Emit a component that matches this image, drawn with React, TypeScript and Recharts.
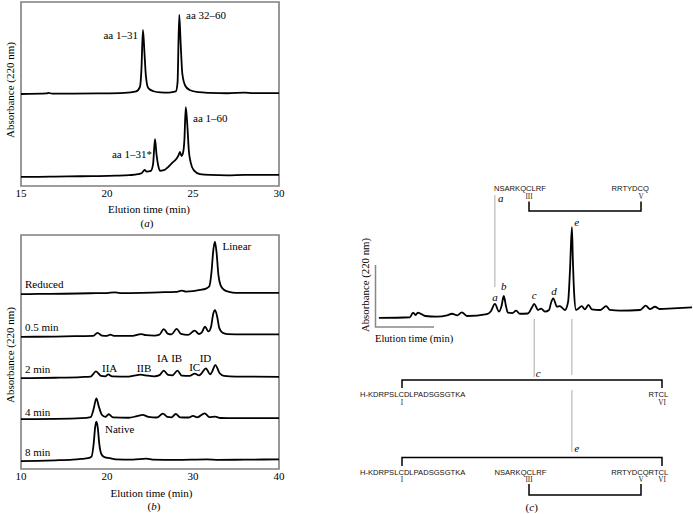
import React from 'react';
import { LineChart, Line, XAxis, YAxis, ReferenceArea, ReferenceLine } from 'recharts';

// ---------- Panel (a) ----------
const aTicks = [15, 20, 25, 30];
const aTopTimes = [15, 16.5, 16.6, 16.8, 18, 19.5, 21, 21.7, 21.92, 22.0, 22.09, 22.18, 22.26, 22.4, 22.7, 23.1, 23.6, 24.0, 24.1, 24.2, 24.28, 24.38, 24.55, 24.8, 25.3, 26, 27, 28, 28.5, 30];
const aTopAbs = [0, 0.3, 0.6, 0.2, 0.2, 0.3, 0.6, 1.4, 4, 13, 34.8, 22, 10, 3.2, 1.5, 0.9, 0.8, 1.4, 6, 43, 28, 11, 4.5, 2.2, 1.0, 0.6, 0.4, 0.8, 0.5, 0.5];
const aBottomTimes = [15, 16, 17, 18.5, 19.5, 20.5, 21.3, 21.8, 22.0, 22.2, 22.3, 22.55, 22.68, 22.79, 22.88, 22.98, 23.08, 23.3, 23.47, 23.76, 24.05, 24.15, 24.24, 24.33, 24.42, 24.5, 24.58, 24.67, 24.76, 24.86, 25.05, 25.4, 26, 27, 28, 30];
const aBottomAbs = [0, 0, 0.1, 0.3, 0.4, 0.6, 0.9, 1.4, 1.9, 3.7, 2.8, 3.2, 7, 20.4, 12, 6, 3.3, 3.6, 4.6, 7.3, 10, 11.5, 13.6, 11.3, 13, 20, 37.9, 28, 14, 8, 3.5, 1.5, 1.0, 0.8, 1.0, 1.0];
const aOffsetTop = 50;
const aOffsetBottom = 5;

// ---------- Panel (b) ----------
const bTicks = [10, 20, 30, 40];
const bNames = ['Reduced', '0.5 min', '2 min', '4 min', '8 min'];
const bReducedTimes = [10, 12, 15, 18, 20, 20.9, 21.5, 24, 26, 28, 28.7, 29.2, 30, 30.8, 31.5, 31.9, 32.15, 32.35, 32.55, 32.75, 32.95, 33.2, 33.6, 34.2, 35, 37, 40];
const bReducedAbs = [-0.4, -0.3, -0.2, 0, 0.1, 0.4, 0.1, 0.2, 0.4, 0.6, 1.1, 0.7, 0.9, 1.4, 2.0, 3, 9, 18, 22.1, 17, 8, 3.5, 1.5, 0.6, 0.2, 0.2, 0.2];
const bHalfTimes = [10, 14, 17, 18.4, 18.9, 19.4, 20.0, 20.4, 20.8, 23, 23.6, 24.0, 24.5, 25.5, 26.1, 26.6, 27.1, 27.5, 28.1, 28.6, 29.4, 30.2, 30.7, 31.0, 31.4, 31.8, 32.1, 32.35, 32.56, 32.8, 33.05, 33.4, 34, 36, 40];
const bHalfAbs = [-0.3, -0.2, 0, 0.1, 1.4, 0.2, 0.1, 0.6, 0.1, 0.1, 0.6, 0.85, 0.4, 0.2, 0.6, 3.0, 0.9, 0.7, 3.1, 0.9, 0.5, 2.3, 0.9, 1.5, 4.0, 2.0, 4, 9.5, 11.1, 8.5, 3.5, 1.5, 0.8, 0.7, 0.7];
const bTwoTimes = [10, 14, 17, 18.1, 18.72, 19.3, 19.8, 20.15, 20.6, 22.5, 23.3, 23.9, 24.5, 25.5, 26.1, 26.6, 27.1, 27.6, 28.2, 28.7, 29.6, 30.2, 30.7, 31.0, 31.5, 32.0, 32.2, 32.6, 33.1, 33.6, 35, 40];
const bTwoAbs = [-0.6, -0.4, -0.1, 0.1, 2.3, 0.4, 0.2, 1.0, 0.2, 0.1, 0.6, 0.9, 0.6, 0.2, 0.7, 2.6, 0.8, 0.6, 2.6, 0.5, 0.4, 1.4, 0.6, 1.5, 3.6, 1.0, 2, 5.0, 1.5, 0.4, 0.1, 0];
const bFourTimes = [10, 14, 17, 18.1, 18.45, 18.76, 19.05, 19.4, 19.8, 20.2, 20.7, 22.5, 23.5, 24.15, 24.8, 25.8, 26.5, 27.0, 27.5, 28.0, 28.5, 29.5, 30.0, 30.5, 31.36, 31.9, 32.56, 33.2, 35, 40];
const bFourAbs = [-0.4, -0.3, 0, 0.5, 4, 8.5, 5, 1.5, 0.6, 1.7, 0.4, 0.2, 0.9, 1.4, 0.6, 0.3, 2.0, 0.6, 0.4, 1.8, 0.4, 0.3, 1.0, 0.4, 2.1, 0.5, 0.7, 0.1, 0, 0];
const bEightTimes = [10, 12, 14, 16, 17, 17.8, 18.2, 18.45, 18.62, 18.76, 18.92, 19.1, 19.35, 19.7, 20.35, 21, 23, 24.6, 25.3, 28, 31.6, 33, 36, 40];
const bEightAbs = [-0.4, -0.3, -0.1, 0.2, 0.5, 0.8, 1.5, 7, 14, 16.4, 14, 7, 2.5, 1.3, 0.8, 0.3, 0.2, 0.6, 0.2, 0.1, 0.3, 0.1, 0.2, 0.3];
const bOffsets = [75.1, 56.8, 39.4, 21.7, 3.8];

// ---------- Panel (c) ----------
const cTimes = [0.9, 10.7, 11.7, 12.5, 13.2, 15.5, 19.2, 22.4, 24.0, 25.6, 27.1, 28.7, 35.0, 36.3, 37.5, 38.8, 39.6, 40.3, 41.0, 41.6, 43, 44.2, 45.4, 47.9, 49.1, 49.9, 51.1, 52.1, 53.3, 54.6, 55.2, 55.9, 57.1, 58.0, 59.6, 60.6, 61.2, 61.8, 62.1, 62.5, 63.1, 63.7, 64.9, 65.9, 67.0, 68.1, 70.7, 72.6, 73.8, 77.0, 83.3, 85.1, 86.4, 88.0, 89.6, 93.7, 99.7];
const cAbs = [8.6, 9.1, 12.4, 10.7, 12.4, 10.0, 9.5, 10.4, 11.6, 10.5, 12.6, 10.0, 11.4, 13.6, 18.6, 13.1, 17.1, 24.3, 17.1, 12.4, 12.1, 13.8, 11.6, 11.8, 15.7, 18.6, 14.3, 15.2, 13.1, 14.3, 19.3, 22.6, 16.6, 17.1, 14.3, 20.2, 42.9, 73.4, 50, 26.4, 14.3, 15, 17.1, 14.8, 17.9, 14.8, 14.3, 17.1, 14.3, 13.8, 14.3, 17.4, 15, 16.6, 15, 15.5, 16.2];
const cPeakNames = ['a', 'b', 'c', 'd', 'e'];
const cPeakTimes = [37.5, 40.3, 49.9, 55.9, 61.8];

type Row = { t: number; v: number };
const rows = (ts: number[], vs: number[], off = 0): Row[] => ts.map((t, i) => ({ t, v: vs[i] + off }));

const aTop = rows(aTopTimes, aTopAbs, aOffsetTop);
const aBottom = rows(aBottomTimes, aBottomAbs, aOffsetBottom);
const bSeries = [
  rows(bReducedTimes, bReducedAbs, bOffsets[0]),
  rows(bHalfTimes, bHalfAbs, bOffsets[1]),
  rows(bTwoTimes, bTwoAbs, bOffsets[2]),
  rows(bFourTimes, bFourAbs, bOffsets[3]),
  rows(bEightTimes, bEightAbs, bOffsets[4]),
];
const cTrace = rows(cTimes, cAbs);

const SERIF = '"Liberation Serif", "Times New Roman", serif';
const SANS = '"Liberation Sans", Arial, sans-serif';
const tickStyle = { fontFamily: SERIF, fontSize: 11, fill: '#000' };
const FRAME = '#7f7f7f';
const TRACE_W = 1.8;

export default function App() {
  const peakT = (n: string) => cPeakTimes[cPeakNames.indexOf(n)];
  return (
    <div style={{ position: 'absolute', left: 0, top: 0, width: 693, height: 514, background: '#fff', overflow: 'hidden' }}>
      {/* Panel (a) */}
      <div style={{ position: 'absolute', left: 0, top: 0 }}>
        <LineChart width={290} height={230} margin={{ top: 2, left: 21, right: 11, bottom: 24 }}>
          <XAxis dataKey="t" type="number" domain={[15, 30]} ticks={aTicks} interval={0} axisLine={false} tickLine={false} tickSize={0} tickMargin={3} height={20} tick={tickStyle} allowDataOverflow />
          <YAxis hide type="number" domain={[0, 100]} allowDataOverflow />
          <ReferenceArea x1={15} x2={30} fill="none" fillOpacity={0} stroke={FRAME} strokeWidth={1.6} ifOverflow="visible" />
          <Line data={aTop} dataKey="v" type="monotone" stroke="#000" strokeWidth={TRACE_W} dot={false} isAnimationActive={false} />
          <Line data={aBottom} dataKey="v" type="monotone" stroke="#000" strokeWidth={TRACE_W} dot={false} isAnimationActive={false} />
        </LineChart>
      </div>

      {/* Panel (b) */}
      <div style={{ position: 'absolute', left: 0, top: 230 }}>
        <LineChart width={290} height={270} margin={{ top: 5, left: 21, right: 11, bottom: 11 }}>
          <XAxis dataKey="t" type="number" domain={[10, 40]} ticks={bTicks} interval={0} axisLine={false} tickLine={false} tickSize={0} tickMargin={3} height={20} tick={tickStyle} allowDataOverflow />
          <YAxis hide type="number" domain={[0, 100]} allowDataOverflow />
          <ReferenceArea x1={10} x2={40} fill="none" fillOpacity={0} stroke={FRAME} strokeWidth={1.6} ifOverflow="visible" />
          {bSeries.map((d, i) => (
            <Line key={bNames[i]} name={bNames[i]} data={d} dataKey="v" type="monotone" stroke="#000" strokeWidth={TRACE_W} dot={false} isAnimationActive={false} />
          ))}
        </LineChart>
      </div>

      {/* Panel (c) */}
      <div style={{ position: 'absolute', left: 350, top: 180 }}>
        <LineChart width={343} height={300} margin={{ top: 10, left: 26, right: 0, bottom: 150 }}>
          <XAxis hide dataKey="t" type="number" domain={[0, 100]} allowDataOverflow />
          <YAxis hide type="number" domain={[0, 100]} allowDataOverflow />
          <ReferenceLine segment={[{ x: peakT('a'), y: 96.4 }, { x: peakT('a'), y: 30.7 }]} stroke="#aaa" strokeWidth={1} ifOverflow="visible" />
          <ReferenceLine segment={[{ x: peakT('c'), y: 7.9 }, { x: peakT('c'), y: -33.6 }]} stroke="#aaa" strokeWidth={1} ifOverflow="visible" />
          <ReferenceLine segment={[{ x: peakT('e'), y: 7.9 }, { x: peakT('e'), y: -32.1 }]} stroke="#aaa" strokeWidth={1} ifOverflow="visible" />
          <ReferenceLine segment={[{ x: peakT('e'), y: -42.9 }, { x: peakT('e'), y: -87.1 }]} stroke="#aaa" strokeWidth={1} ifOverflow="visible" />
          <Line data={cTrace} dataKey="v" type="monotone" stroke="#000" strokeWidth={TRACE_W} dot={false} isAnimationActive={false} />
        </LineChart>
      </div>

      {/* Annotations */}
      <svg width={693} height={514} style={{ position: 'absolute', left: 0, top: 0, pointerEvents: 'none' }}>
        <g fontFamily={SERIF} fontSize={11} fill="#000" dominantBaseline="central">
          {/* (a) */}
          <text transform="translate(10,90) rotate(-90)" textAnchor="middle">Absorbance (220 nm)</text>
          <text x={149} y={209} textAnchor="middle">Elution time (min)</text>
          <text x={147} y={222.5} textAnchor="middle">(<tspan fontStyle="italic">a</tspan>)</text>
          <text x={138} y={35} textAnchor="end">aa 1–31</text>
          <text x={186} y={15}>aa 32–60</text>
          <text x={193} y={118}>aa 1–60</text>
          <text x={152} y={154} textAnchor="end">aa 1–31*</text>
          {/* (b) */}
          <text transform="translate(10,355) rotate(-90)" textAnchor="middle">Absorbance (220 nm)</text>
          <text x={151.5} y={492.5} textAnchor="middle">Elution time (min)</text>
          <text x={154} y={505.5} textAnchor="middle">(<tspan fontStyle="italic">b</tspan>)</text>
          <text x={222.5} y={246}>Linear</text>
          <text x={25} y={284}>{bNames[0]}</text>
          <text x={25} y={327}>{bNames[1]}</text>
          <text x={25} y={369}>{bNames[2]}</text>
          <text x={25} y={411.5}>{bNames[3]}</text>
          <text x={25} y={451.5}>{bNames[4]}</text>
          <text x={109.7} y={367.7} textAnchor="middle">IIA</text>
          <text x={144} y={367.7} textAnchor="middle">IIB</text>
          <text x={162.7} y={358} textAnchor="middle">IA</text>
          <text x={176.7} y={358} textAnchor="middle">IB</text>
          <text x={194.7} y={366.7} textAnchor="middle">IC</text>
          <text x={205.5} y={358} textAnchor="middle">ID</text>
          <text x={105} y={429}>Native</text>
          {/* (c) */}
          <text transform="translate(365,285) rotate(-90)" textAnchor="middle" fontSize={10.8}>Absorbance (220 nm)</text>
          <text x={375} y={338.5} fontSize={10.5}>Elution time (min)</text>
          <text x={531.7} y={506.5} textAnchor="middle">(<tspan fontStyle="italic">c</tspan>)</text>
          <g fontStyle="italic">
            <text x={495} y={296.7} textAnchor="middle">a</text>
            <text x={503.7} y={286} textAnchor="middle">b</text>
            <text x={534.3} y={295.3} textAnchor="middle">c</text>
            <text x={554} y={290.7} textAnchor="middle">d</text>
            <text x={576.7} y={221.7} textAnchor="middle">e</text>
            <text x={500.7} y={198.3} textAnchor="middle">a</text>
            <text x={538.3} y={372.7} textAnchor="middle">c</text>
            <text x={576.7} y={447.7} textAnchor="middle">e</text>
          </g>
        </g>
        <path d="M375.5,265 V327 H434" stroke="#888" strokeWidth={1.5} fill="none" />
        <g stroke="#000" strokeWidth={1.5} fill="none">
          <path d="M529,201.5 V211 H641 V201.5" />
          <path d="M402,388 V380 H662 V388" />
          <path d="M402,466 V457.5 H662 V466" />
          <path d="M529,484 V495 H641 V484" />
        </g>
        <g fontFamily={SANS} fontSize={7.6} fill="#111" dominantBaseline="central">
          <text x={494} y={188}>NSARKQCLRF</text>
          <text x={649} y={188} textAnchor="end">RRTYDCQ</text>
          <text x={360} y={394.7}>H-KDRPSLCDLPADSGSGTKA</text>
          <text x={668.3} y={394.7} textAnchor="end">RTCL</text>
          <text x={360} y={472.3}>H-KDRPSLCDLPADSGSGTKA</text>
          <text x={494.5} y={472.3}>NSARKQCLRF</text>
          <text x={668.3} y={472.3} textAnchor="end">RRTYDCQRTCL</text>
        </g>
        <g fontFamily={SERIF} fontSize={7.2} fill="#222" dominantBaseline="central" textAnchor="middle">
          <text x={529} y={196.5}>III</text>
          <text x={641} y={196.5}>V</text>
          <text x={402} y={402.5}>I</text>
          <text x={662} y={402.5}>VI</text>
          <text x={402} y={480}>I</text>
          <text x={529} y={480}>III</text>
          <text x={641} y={480}>V</text>
          <text x={662} y={480}>VI</text>
        </g>
      </svg>
    </div>
  );
}
